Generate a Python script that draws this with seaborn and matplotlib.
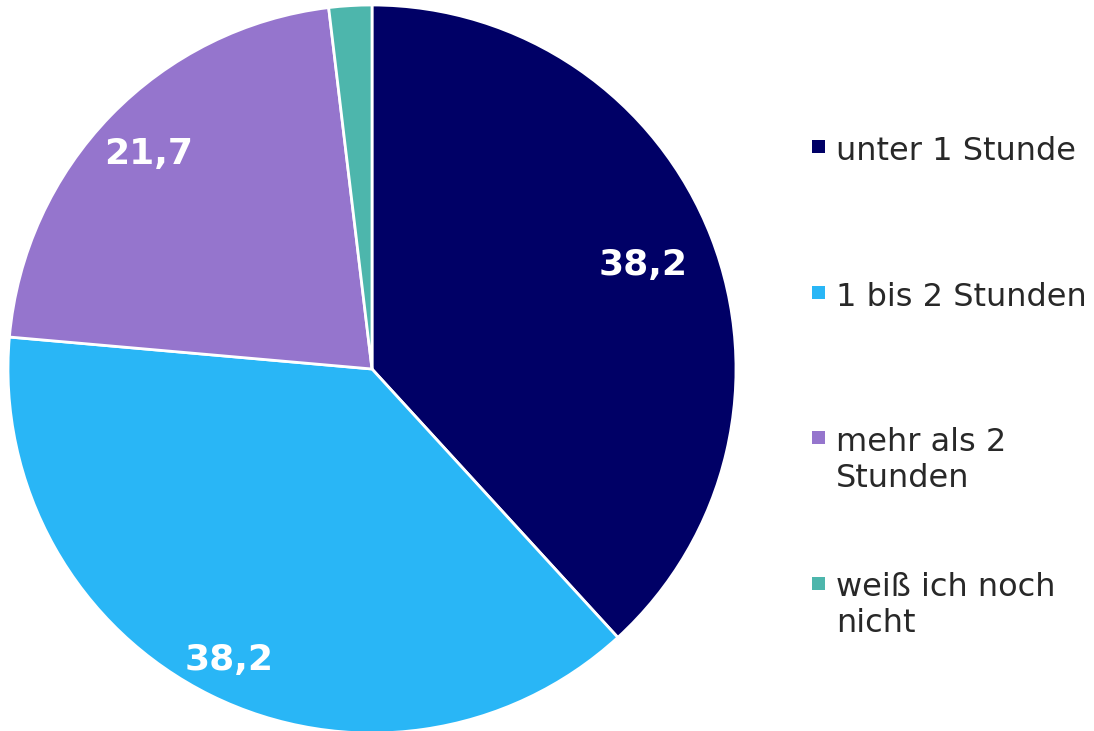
import numpy as np
import matplotlib
matplotlib.use('Agg')
import matplotlib.pyplot as plt
from matplotlib.patches import Rectangle
import seaborn as sns

# Daten
kategorien = ['unter 1 Stunde', '1 bis 2 Stunden', 'mehr als 2\nStunden', 'weiß ich noch\nnicht']
werte = [38.2, 38.2, 21.7, 1.9]
beschriftung = ['38,2', '38,2', '21,7', '']
farben = sns.color_palette(['#000066', '#29B6F6', '#9575CD', '#4DB6AC'])

sns.set_theme(style='white')
plt.rcParams['font.family'] = ['DejaVu Sans']

B, H = 1094, 731
fig = plt.figure(figsize=(B / 100, H / 100), dpi=100)
ax = fig.add_axes([8 / B, -2 / H, 728 / B, 728 / H])

wedges, _ = ax.pie(werte, colors=farben, startangle=90, counterclock=False,
                   radius=1, wedgeprops=dict(edgecolor='white', linewidth=2))
ax.set_xlim(-1, 1)
ax.set_ylim(-1, 1)
ax.set_aspect('equal')
ax.axis('off')

# Werte in die Segmente schreiben (Abstand vom Mittelpunkt je Segment)
abstand = [0.80, 0.885, 0.855, 0.8]
for w, txt, r in zip(wedges, beschriftung, abstand):
    if not txt:
        continue
    mitte = np.deg2rad((w.theta1 + w.theta2) / 2)
    ax.text(r * np.cos(mitte), r * np.sin(mitte) - 0.005, txt, color='white',
            fontsize=26, fontweight='bold', ha='center', va='center')

# Legende: Marker an der ersten Textzeile ausgerichtet, wie im Original
oben0, schritt = 136, 145.5
for i, (lab, col) in enumerate(zip(kategorien, farben)):
    y = oben0 + i * schritt
    fig.text(836 / B, 1 - y / H, lab, fontsize=23, color='#282828',
             ha='left', va='top', linespacing=1.2)
    fig.add_artist(Rectangle((812 / B, 1 - (y + 17) / H), 13 / B, 13 / H,
                             transform=fig.transFigure, facecolor=col,
                             edgecolor='none'))

plt.savefig('out.png', dpi=100)
